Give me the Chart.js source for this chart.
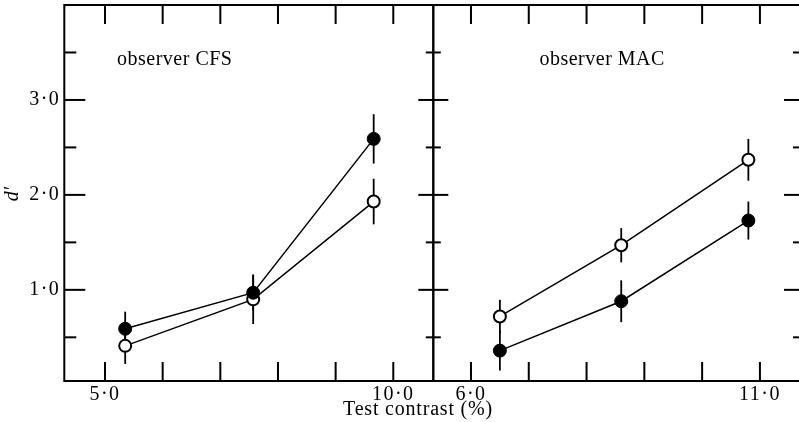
<!DOCTYPE html>
<html>
<head>
<meta charset="utf-8">
<script src="https://cdn.jsdelivr.net/npm/chart.js@4.4.1/dist/chart.umd.min.js"></script>
<style>
  html, body { margin: 0; padding: 0; background: #fff; overflow: hidden; }
  #wrap { position: relative; width: 799px; height: 422px; overflow: hidden; }
  canvas { position: absolute; left: 0; top: 0; }
</style>
</head>
<body>
<div id="wrap">
  <canvas id="cfs" width="799" height="422"></canvas>
  <canvas id="mac" width="830" height="422"></canvas>
</div>
<script>
// d' axis
const yMajor = [1, 2, 3];
const yMinor = [0.5, 1.5, 2.5, 3.5];
const yLabels = ['1·0', '2·0', '3·0'];

// observer CFS
const cfsTicks = [5, 6, 7, 8, 9, 10];
const cfsTickLabels = ['5·0', '', '', '', '', '10·0'];
const cfsContrast = [5.35, 7.57, 9.66];
const cfsFilled = [0.59, 0.97, 2.59];
const cfsFilledErr = [0.18, 0.19, 0.26];
const cfsOpen = [0.41, 0.90, 1.93];
const cfsOpenErr = [0.19, 0.26, 0.24];

// observer MAC
const macTicks = [6, 7, 8, 9, 10, 11];
const macTickLabels = ['6·0', '', '', '', '', '11·0'];
const macContrast = [6.50, 8.60, 10.80];
const macFilled = [0.36, 0.88, 1.73];
const macFilledErr = [0.21, 0.22, 0.20];
const macOpen = [0.72, 1.47, 2.37];
const macOpenErr = [0.175, 0.18, 0.22];

const SERIF = '"Liberation Serif", "DejaVu Serif", serif';

function points(xs, ys, errs) {
  return xs.map((x, i) => ({ x, y: ys[i], err: errs[i] }));
}

function series(xs, filled, filledErr, open, openErr) {
  return [
    { data: points(xs, filled, filledErr), showLine: true, borderColor: '#000', borderWidth: 1.5,
      pointRadius: 6.5, pointBackgroundColor: '#000', pointBorderColor: '#000', pointBorderWidth: 1 },
    { data: points(xs, open, openErr), showLine: true, borderColor: '#000', borderWidth: 1.5,
      pointRadius: 6, pointBackgroundColor: '#fff', pointBorderColor: '#000', pointBorderWidth: 2 }
  ];
}

// ticks on one vertical side: 'in' points into the panel, 'both' crosses the divider
function sideTicks(ctx, px, y, side, dir) {
  const draw = (v, major) => {
    const py = y.getPixelForValue(v);
    ctx.beginPath();
    if (side === 'in') {
      const len = major ? 21 : 12;
      ctx.moveTo(px, py); ctx.lineTo(px + dir * len, py);
    } else {
      const len = major ? 15 : 7.5;
      ctx.moveTo(px - len, py); ctx.lineTo(px + len, py);
    }
    ctx.stroke();
  };
  yMajor.forEach(v => draw(v, true));
  yMinor.forEach(v => draw(v, false));
}

const panel = {
  id: 'panel',
  beforeDatasetsDraw(chart) {
    const { ctx, scales: { x, y } } = chart;
    ctx.save();
    ctx.strokeStyle = '#000';
    ctx.lineWidth = 1.8;
    chart.data.datasets.forEach(ds => ds.data.forEach(p => {
      const px = x.getPixelForValue(p.x);
      ctx.beginPath();
      ctx.moveTo(px, y.getPixelForValue(p.y - p.err));
      ctx.lineTo(px, y.getPixelForValue(p.y + p.err));
      ctx.stroke();
    }));
    ctx.restore();
  },
  afterDraw(chart, args, o) {
    const { ctx, chartArea: a, scales: { x, y } } = chart;
    ctx.save();
    ctx.strokeStyle = '#000';
    ctx.fillStyle = '#000';
    ctx.lineWidth = 2;
    ctx.strokeRect(a.left, a.top, a.right - a.left, a.bottom - a.top);

    ctx.font = '20px ' + SERIF;
    ctx.letterSpacing = '1.5px';
    ctx.textAlign = 'center';
    ctx.textBaseline = 'middle';
    o.xTicks.forEach((v, i) => {
      const px = x.getPixelForValue(v);
      ctx.beginPath();
      ctx.moveTo(px, a.bottom); ctx.lineTo(px, a.bottom - 19);
      ctx.moveTo(px, a.top); ctx.lineTo(px, a.top + 19);
      ctx.stroke();
      if (o.xLabels[i]) ctx.fillText(o.xLabels[i], px, a.bottom + 14);
    });

    if (o.left) sideTicks(ctx, a.left, y, o.left, 1);
    if (o.right) sideTicks(ctx, a.right, y, o.right, -1);

    if (o.yLabels) {
      ctx.textAlign = 'right';
      yMajor.forEach((v, i) => ctx.fillText(yLabels[i], a.left - 4, y.getPixelForValue(v)));
    }

    ctx.textAlign = 'center';
    ctx.letterSpacing = '0.5px';
    ctx.fillText(o.title, x.getPixelForValue(o.titleAt[0]), y.getPixelForValue(o.titleAt[1]));

    if (o.axisTitles) {
      ctx.letterSpacing = '0.8px';
      ctx.fillText('Test contrast (%)', 418, 410);
      ctx.letterSpacing = '0px';
      ctx.save();
      ctx.translate(13, 194);
      ctx.rotate(-Math.PI / 2);
      ctx.font = 'italic 20px ' + SERIF;
      ctx.fillText('d′', 0, 0);
      ctx.restore();
    }
    ctx.restore();
  }
};

function makePanel(id, xs, ticks, tickLabels, filled, filledErr, open, openErr, xRange, pad, extra) {
  new Chart(document.getElementById(id), {
    type: 'scatter',
    data: { datasets: series(xs, filled, filledErr, open, openErr) },
    options: {
      responsive: false,
      animation: false,
      devicePixelRatio: 1,
      layout: { padding: pad, autoPadding: false },
      scales: {
        x: { type: 'linear', min: xRange[0], max: xRange[1], display: false },
        y: { type: 'linear', min: 0.04, max: 4.0, display: false }
      },
      plugins: {
        legend: { display: false },
        tooltip: { enabled: false },
        panel: Object.assign({ xTicks: ticks, xLabels: tickLabels }, extra)
      }
    },
    plugins: [panel]
  });
}

makePanel('cfs', cfsContrast, cfsTicks, cfsTickLabels, cfsFilled, cfsFilledErr, cfsOpen, cfsOpenErr,
  [4.294, 10.694], { left: 64.3, right: 365.7, top: 5, bottom: 41 },
  { left: 'in', right: 'both', yLabels: true, axisTitles: true, title: 'observer CFS', titleAt: [6.21, 3.42] });

makePanel('mac', macContrast, macTicks, macTickLabels, macFilled, macFilledErr, macOpen, macOpenErr,
  [5.348, 11.78], { left: 433.3, right: 25, top: 5, bottom: 41 },
  { left: null, right: 'in', yLabels: false, axisTitles: false, title: 'observer MAC', titleAt: [8.27, 3.42] });
</script>
</body>
</html>
